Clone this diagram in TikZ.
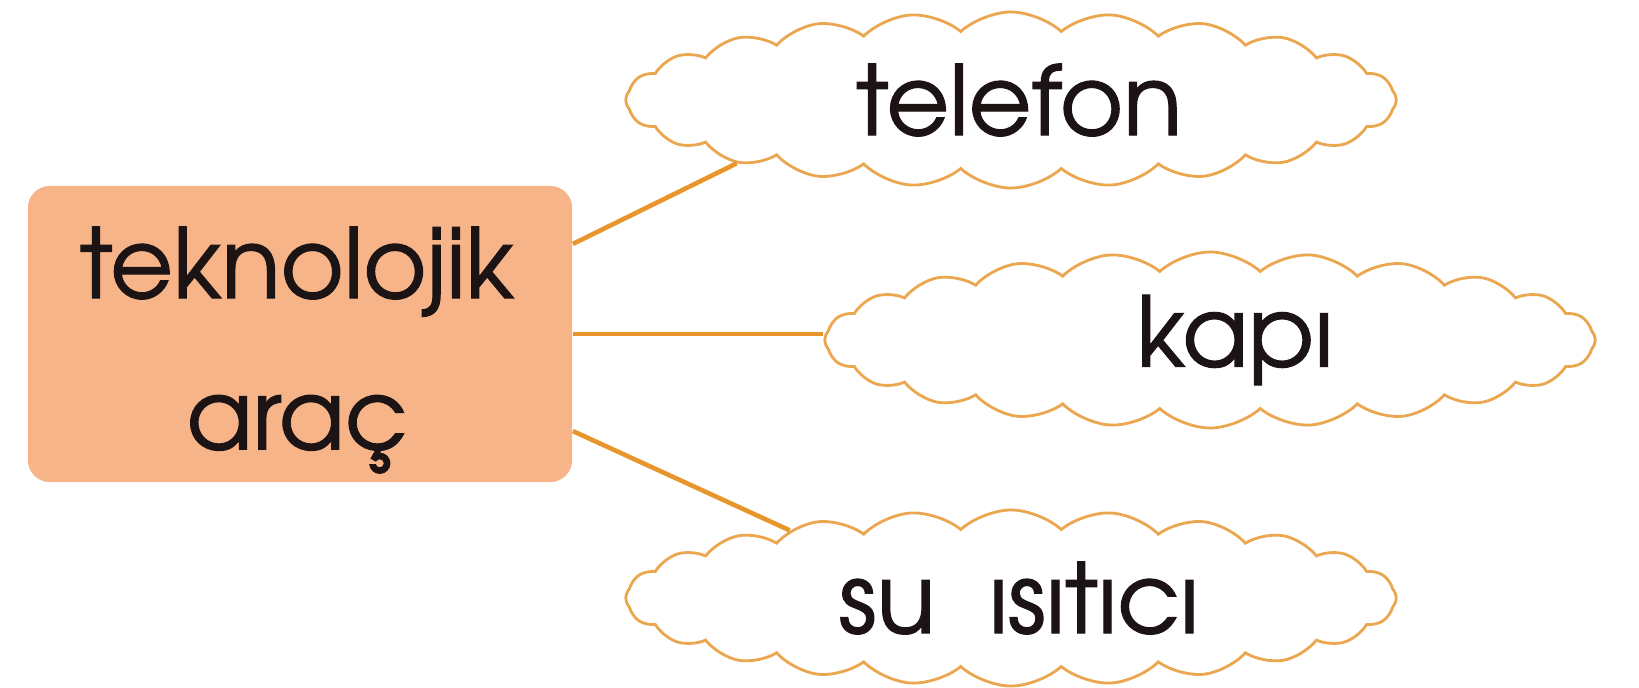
\documentclass[tikz,border=0pt]{standalone}
\usepackage{fontspec}
\setmainfont[FakeBold=1.2]{texgyreadventor-regular.otf}
\usetikzlibrary{shapes.symbols}
\definecolor{boksfarge}{HTML}{F6B488}
\definecolor{linjefarge}{HTML}{E8952C}
\definecolor{skyfarge}{HTML}{EBA650}
\definecolor{tekstfarge}{HTML}{1C1414}
\tikzset{
	boks/.style={rectangle, rounded corners=0.22cm, fill=boksfarge,
		minimum width=5.44cm, minimum height=2.96cm},
	bokstekst/.style={align=center, inner sep=0pt,
		text=tekstfarge, font=\fontsize{27.5}{43}\selectfont\bfseries},
	sky/.style={cloud, cloud puffs=24, cloud puff arc=85, cloud ignores aspect,
		draw=skyfarge, line width=0.8pt, fill=white, inner sep=0pt,
		minimum width=7.7cm, minimum height=1.76cm,
		text=tekstfarge, font=\fontsize{27.5}{40}\selectfont\bfseries},
	linje/.style={draw=linjefarge, line width=1.3pt}
}
\begin{document}
\begin{tikzpicture}[x=0.01cm,y=-0.01cm]
		\useasboundingbox (0,0) rectangle (1639,688);

		% Hovedboks
		\node[boks] (arac) at (300,334) {};
		\node[bokstekst] (aractekst) at (297,350) {teknolojik\\araç};

		% Skyer
		\node[sky] (telefon) at (1011,100) {\,telefon};
		\node[sky] (kapi) at (1210,340) {\hspace{0.5cm}kapı};
		\node[sky] (isitici) at (1011,598) {\,su\ \ ısıtıcı};

		% Forbindelser
		\draw[linje] ([yshift=0.9cm]arac.east) -- (telefon.193);
		\draw[linje] (arac.east) -- (arac.east -| kapi.west);
		\draw[linje] ([yshift=-0.97cm]arac.east) -- (isitici.163);
	\end{tikzpicture}
\end{document}
